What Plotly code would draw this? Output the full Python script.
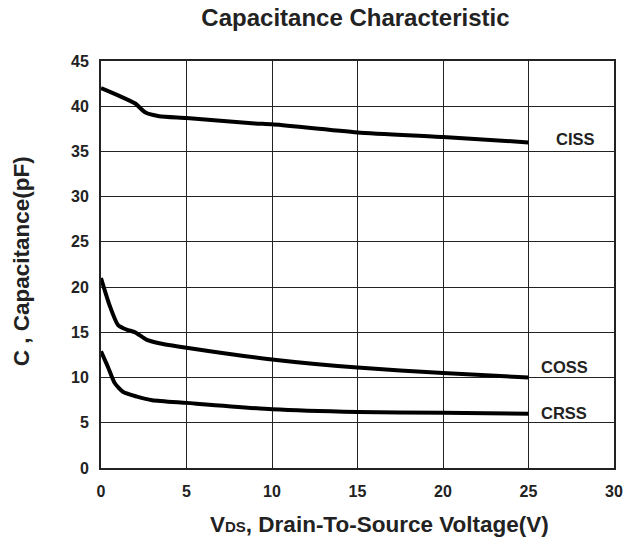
import plotly.graph_objects as go

vds_ciss = [0, 1, 2, 2.6, 3.4, 5, 9, 10, 15, 20, 25]
ciss = [42.0, 41.2, 40.3, 39.3, 38.9, 38.7, 38.1, 38.0, 37.1, 36.6, 36.0]

vds_coss = [0, 0.5, 1.0, 1.5, 2.0, 2.65, 3.4, 5, 10, 15, 20, 25]
coss = [21.0, 18.0, 15.8, 15.3, 15.0, 14.2, 13.8, 13.3, 12.0, 11.1, 10.5, 10.0]

vds_crss = [0, 0.4, 0.8, 1.3, 2.1, 3.0, 5, 10, 15, 20, 25]
crss = [12.9, 11.2, 9.4, 8.4, 7.9, 7.5, 7.2, 6.5, 6.2, 6.1, 6.0]

labels = ["CISS", "COSS", "CRSS"]
label_x = [26.5, 25.6, 25.6]
label_y = [36.4, 11.2, 6.1]

x_ticks = [0, 5, 10, 15, 20, 25, 30]
y_ticks = list(range(0, 50, 5))

FONT = "Liberation Sans, Arial"
INK = "#222"

fig = go.Figure()
for xs, ys in [(vds_ciss, ciss), (vds_coss, coss), (vds_crss, crss)]:
    fig.add_trace(go.Scatter(x=xs, y=ys, mode="lines",
                             line=dict(color="black", width=4, shape="spline", smoothing=0.6),
                             showlegend=False, hoverinfo="skip"))

for t, lx, ly in zip(labels, label_x, label_y):
    fig.add_annotation(x=lx, y=ly, text="<b>%s</b>" % t, showarrow=False,
                       xanchor="left", yanchor="middle",
                       font=dict(family=FONT, size=16.5, color=INK))

# axis titles
fig.add_annotation(xref="paper", yref="paper", x=0.543, y=-0.1376,
                   xanchor="center", yanchor="middle", showarrow=False,
                   text="<b>V<span style='font-size:15px'>DS</span>, Drain-To-Source Voltage(V)</b>",
                   font=dict(family=FONT, size=22.5, color=INK))
fig.add_annotation(xref="paper", yref="paper", x=-0.155, y=0.509,
                   xanchor="center", yanchor="middle", showarrow=False, textangle=-90,
                   text="<b>C , Capacitance(pF)</b>",
                   font=dict(family=FONT, size=22.5, color=INK))

fig.update_layout(
    width=635, height=541,
    margin=dict(l=101, r=18, t=61, b=73),
    paper_bgcolor="white", plot_bgcolor="white",
    title=dict(text="<b>Capacitance Characteristic</b>", x=0.496, xref="paper", xanchor="center",
               y=0.967, yanchor="middle",
               font=dict(family=FONT, size=24, color=INK)),
    font=dict(family=FONT, color=INK),
)
fig.update_xaxes(range=[0, 30], tickvals=x_ticks,
                 ticktext=["<b>%d</b>" % v for v in x_ticks],
                 tickfont=dict(size=16, family=FONT, color=INK),
                 showgrid=True, gridcolor=INK, gridwidth=1,
                 showline=True, linecolor=INK, linewidth=2, mirror=True,
                 zeroline=False, ticks="", ticklabelstandoff=8)
fig.update_yaxes(range=[0, 45], tickvals=y_ticks,
                 ticktext=["<b>%d</b>" % v for v in y_ticks],
                 tickfont=dict(size=16, family=FONT, color=INK),
                 showgrid=True, gridcolor=INK, gridwidth=1,
                 showline=True, linecolor=INK, linewidth=2, mirror=True,
                 zeroline=False, ticks="", ticklabelstandoff=7)

fig.write_html("out.html", config={"displayModeBar": False},
               post_script="document.body.style.margin='0px';")
